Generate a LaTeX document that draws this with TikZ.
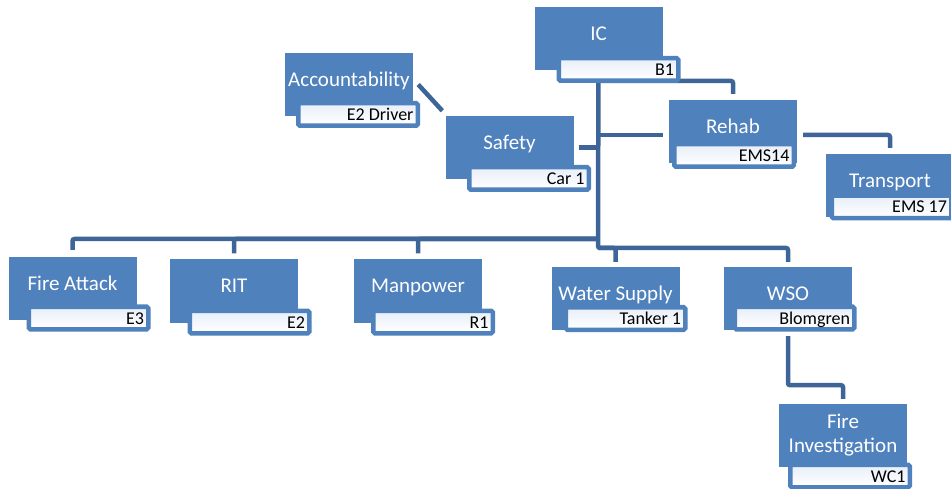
\documentclass[tikz,border=0pt]{standalone}
\usepackage{fontspec}
\setmainfont{Carlito}
\usepackage{tikz}
\usetikzlibrary{backgrounds}
\definecolor{BoxBlue}{RGB}{79,129,189}
\definecolor{LinkBlue}{RGB}{62,101,151}
\definecolor{TagTop}{RGB}{232,239,249}

\begin{document}
\begin{tikzpicture}[
  x=1pt, y=-1pt,
  every node/.style={font=\fontsize{21}{24}\selectfont},
  unit/.style={fill=BoxBlue, text=white, minimum width=128pt, minimum height=63pt,
               inner sep=0pt, text height=10pt, text depth=6.4pt},
  tag/.style={draw=BoxBlue, line width=4.5pt, rounded corners=1.5pt,
              top color=TagTop, bottom color=white, text=black,
              minimum width=119.5pt, minimum height=22.5pt, text width=111pt,
              inner xsep=4.25pt, inner ysep=0pt, align=flush right,
              text height=12pt, text depth=0pt, font=\fontsize{18}{20}\selectfont},
  link/.style={draw=LinkBlue, line width=4.5pt, rounded corners=2pt}
]
\useasboundingbox (0,0) rectangle (951,489);
% command and staff
\node[unit] (ic) at (598.5,39) {IC};
\node[tag] (icT) at ([shift={(20,30.5)}]ic.center) {B1};
\node[unit] (acct) at (349,84.5) {Accountability};
\node[tag] (acctT) at ([shift={(9,30)}]acct.center) {E2 Driver};
\node[unit] (safety) at (509.5,147.5) {Safety};
\node[tag] (safetyT) at ([shift={(19.5,31)}]safety.center) {Car 1};
\node[unit] (rehab) at (733,131.5) {Rehab};
\node[tag] (rehabT) at ([shift={(1,24)}]rehab.center) {EMS14};
\node[unit] (tr) at (890,185.5) {Transport};
\node[tag] (trT) at ([shift={(1.5,21.5)}]tr.center) {EMS 17};
% divisions
\node[unit] (fa) at (72.5,288.5) {Fire Attack};
\node[tag] (faT) at ([shift={(16,29.5)}]fa.center) {E3};
\node[unit] (rit) at (234,291) {RIT};
\node[tag] (ritT) at ([shift={(15.5,31)}]rit.center) {E2};
\node[unit] (mp) at (418,291) {Manpower};
\node[tag] (mpT) at ([shift={(15,31)}]mp.center) {R1};
\node[unit] (ws) at (615.5,298.5) {Water Supply};
\node[tag] (wsT) at ([shift={(10,20)}]ws.center) {Tanker 1};
\node[unit] (wso) at (788,298.5) {WSO};
\node[tag] (wsoT) at ([shift={(6.5,19.5)}]wso.center) {Blomgren};
\node[unit, align=center, text height={}, text depth={}] (fi) at (843,435) {Fire\\Investigation};
\node[tag] (fiT) at ([shift={(7,41)}]fi.center) {WC1};
% connectors
\begin{scope}[on background layer]
\coordinate (lbar) at (598,239);
\coordinate (rbar) at (598,248);
\coordinate (rtop) at (598,81);
\coordinate (rmid) at (598,135);
\draw[link] (ic.center) -- (rbar) -| ([shift={(0,-5)}]wso.north);
\draw[link] (rbar) -| ([shift={(0,-5)}]ws.north);
\draw[link] (lbar) -| ([shift={(0,-7)}]fa.north);
\draw[link] (lbar) -| ([shift={(0,-6)}]rit.north);
\draw[link] (lbar) -| ([shift={(0,-6)}]mp.north);
\draw[link] (rtop) -| ([shift={(0,-6)}]rehab.north);
\draw[link] (rmid) -- ++(65,0);
\draw[link] ([shift={(5,0)}]safety.east) -- (safety.east -| ic.center);
\draw[link] ([shift={(5,0)}]acct.east) -- ([shift={(-3,-5)}]safety.north west);
\draw[link] ([shift={(6,3.5)}]rehab.east) -| ([shift={(0,-6)}]tr.north);
\draw[link] ([shift={(0,6)}]wso.south) -- ++(0,49) -| ([shift={(0,-4.5)}]fi.north);
\end{scope}
\end{tikzpicture}
\end{document}
